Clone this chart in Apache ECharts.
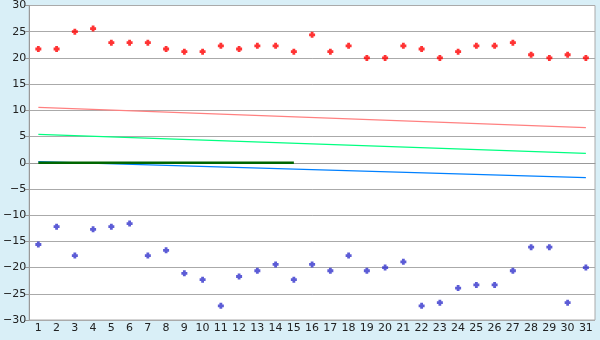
<!DOCTYPE html>
<html><head><meta charset="utf-8">
<script src="https://cdn.jsdelivr.net/npm/echarts@6/dist/echarts.min.js"></script>
<style>html,body{margin:0;padding:0;background:#d9eff7;}#c{width:600px;height:340px;}</style>
</head><body><div id="c"></div>
<script>
const days = Array.from({length:31},(_,i)=>String(i+1));
const highs = [21.7,21.7,25.0,25.6,22.9,22.9,22.9,21.7,21.2,21.2,22.3,21.7,22.3,22.3,21.2,24.4,21.2,22.3,20.0,20.0,22.3,21.7,20.0,21.2,22.3,22.3,22.9,20.6,20.0,20.6,20.0];
const lows = [-15.6,-12.2,-17.7,-12.7,-12.2,-11.6,-17.7,-16.7,-21.1,-22.3,-27.3,-21.7,-20.6,-19.4,-22.3,-19.4,-20.6,-17.7,-20.6,-20.0,-18.9,-27.3,-26.7,-23.9,-23.3,-23.3,-20.6,-16.1,-16.1,-26.7,-20.0];
const normHigh = [[0,10.55],[30,6.7]];
const normMean = [[0,5.43],[30,1.8]];
const normLow = [[0,0.22],[30,-2.83]];
const zeroLine = [[0,0],[14,0]];
const yTicks = {min:-30,max:30,interval:5};

const plus = 'path://M1.6,0H4.4V1.6H6V4.4H4.4V6H1.6V4.4H0V1.6H1.6Z';
const chart = echarts.init(document.getElementById('c'));
chart.setOption({
  backgroundColor:'#d9eff7',
  animation:false,
  grid:{left:26,right:5,top:5,bottom:20,show:true,backgroundColor:'#fff',borderColor:'#aaa',borderWidth:1},
  xAxis:{type:'category',data:days,boundaryGap:true,
    axisLine:{lineStyle:{color:'#999'}},
    axisTick:{alignWithLabel:true,length:5,lineStyle:{color:'#444'}},
    axisLabel:{interval:0,color:'#222',fontFamily:'DejaVu Sans',fontSize:11,margin:3},
    splitLine:{show:false}},
  yAxis:{type:'value',min:yTicks.min,max:yTicks.max,interval:yTicks.interval,
    axisLine:{show:true,lineStyle:{color:'#999'}},
    axisTick:{show:true,length:4,lineStyle:{color:'#999'}},
    axisLabel:{color:'#222',fontFamily:'DejaVu Sans',fontSize:11,margin:3,
      formatter:v=>String(v).replace('-','\u2212')},
    splitLine:{lineStyle:{color:'#aaa',width:1}}},
  series:[
    {type:'line',data:normHigh,symbol:'none',lineStyle:{color:'#ff8080',width:1.3},z:2},
    {type:'line',data:normMean,symbol:'none',lineStyle:{color:'#00ff80',width:1.3},z:2},
    {type:'line',data:normLow,symbol:'none',lineStyle:{color:'#0080ff',width:1.3},z:2},
    {type:'line',data:zeroLine,symbol:'none',lineStyle:{color:'#006600',width:2.5},z:3},
    {type:'scatter',data:highs,symbol:plus,symbolSize:6,itemStyle:{color:'#ff0000'},z:4},
    {type:'scatter',data:lows,symbol:plus,symbolSize:6,itemStyle:{color:'#3333cc'},z:4}
  ]
});
</script></body></html>
